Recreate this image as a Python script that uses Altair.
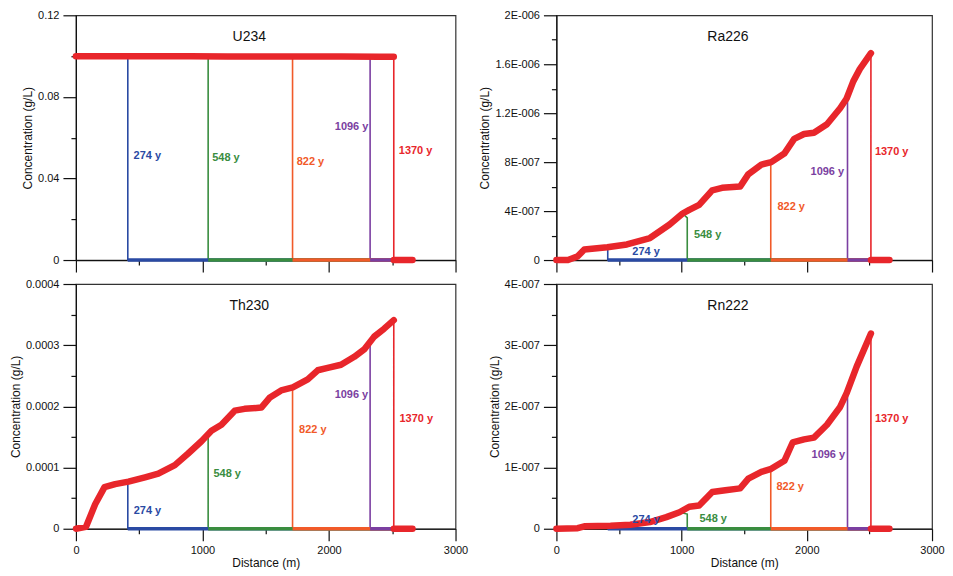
import altair as alt
import pandas as pd

# ---------------- data ----------------
SERIES = ["274 y", "548 y", "822 y", "1096 y", "1370 y"]
COLORS = ["#2a4aa3", "#3a8d3f", "#f15a29", "#7b3fa1", "#e8262b"]
FRONT_X = [410, 1045, 1712, 2325, 2512]     # distance of the front for each time
TAIL_END = 2660                              # last distance of the zero tails

X_TICKS = [0, 500, 1000, 1500, 2000, 2500, 3000]
X_LABEL_VALUES = [0, 1000, 2000, 3000]
X_LABEL_TEXTS = ["0", "1000", "2000", "3000"]

# U234 (g/L)
U234_X = [0, 300, 600, 900, 1200, 1500, 1800, 2100, 2400, 2512]
U234_Y = [0.0999, 0.0999, 0.0999, 0.0999, 0.0998, 0.0998, 0.0998, 0.0998, 0.0997, 0.0997]
U234_TOP = [0.0990, 0.0990, 0.0990, 0.0990, 0.0997]
U234_LX = [440, 1061, 1729, 2319, 2536]
U234_LY = [0.0509, 0.0501, 0.0480, 0.0652, 0.0534]

# Ra226 (g/L)
RA_X = [0, 92, 170, 223, 406, 563, 747, 904, 1008, 1061, 1140, 1244, 1323, 1467, 1532,
        1637, 1716, 1820, 1899, 1978, 2057, 2161, 2266, 2318, 2371, 2423, 2512]
RA_Y = [0, 0, 0.3e-7, 0.86e-7, 1.05e-7, 1.27e-7, 1.8e-7, 2.9e-7, 3.8e-7, 4.1e-7, 4.5e-7,
        5.7e-7, 5.9e-7, 6.0e-7, 7.0e-7, 7.8e-7, 8.0e-7, 8.7e-7, 9.9e-7, 1.03e-6, 1.04e-6,
        1.11e-6, 1.24e-6, 1.32e-6, 1.46e-6, 1.56e-6, 1.69e-6]
RA_TOP = [0.8e-7, 3.45e-7, 7.9e-7, 1.33e-6, 1.69e-6]
RA_LX = [590, 1082, 1750, 2306, 2528]
RA_LY = [0.68e-7, 2.03e-7, 4.32e-7, 7.16e-7, 8.84e-7]

# Th230 (g/L)
TH_X = [0, 79, 152, 226, 310, 415, 546, 651, 782, 887, 992, 1071, 1150, 1255, 1333, 1465,
        1530, 1622, 1714, 1832, 1911, 1990, 2095, 2200, 2278, 2357, 2436, 2512]
TH_Y = [0, 0.03e-4, 0.4e-4, 0.68e-4, 0.73e-4, 0.77e-4, 0.84e-4, 0.9e-4, 1.04e-4, 1.23e-4,
        1.43e-4, 1.6e-4, 1.7e-4, 1.93e-4, 1.96e-4, 1.98e-4, 2.14e-4, 2.26e-4, 2.31e-4,
        2.44e-4, 2.59e-4, 2.63e-4, 2.68e-4, 2.81e-4, 2.93e-4, 3.14e-4, 3.27e-4, 3.41e-4]
TH_TOP = [0.74e-4, 1.53e-4, 2.27e-4, 3.05e-4, 3.41e-4]
TH_LX = [441, 1071, 1748, 2318, 2541]
TH_LY = [0.29e-4, 0.89e-4, 1.61e-4, 2.18e-4, 1.79e-4]

# Rn222 (g/L)
RN_X = [0, 170, 223, 432, 590, 747, 878, 983, 1061, 1140, 1245, 1349, 1467, 1533, 1637,
        1716, 1821, 1887, 1978, 2057, 2161, 2266, 2319, 2398, 2512]
RN_Y = [0, 0.01e-7, 0.04e-7, 0.05e-7, 0.065e-7, 0.11e-7, 0.19e-7, 0.27e-7, 0.36e-7,
        0.38e-7, 0.6e-7, 0.63e-7, 0.66e-7, 0.82e-7, 0.93e-7, 0.98e-7, 1.11e-7, 1.41e-7,
        1.46e-7, 1.49e-7, 1.70e-7, 1.99e-7, 2.22e-7, 2.65e-7, 3.19e-7]
RN_TOP = [0.04e-7, 0.24e-7, 0.97e-7, 2.17e-7, 3.19e-7]
RN_LX = [590, 1127, 1742, 2314, 2528]
RN_LY = [0.135e-7, 0.16e-7, 0.68e-7, 1.21e-7, 1.79e-7]

# y axes: tick values, labelled values and their texts
U234_YT = [0, 0.02, 0.04, 0.06, 0.08, 0.1, 0.12]
U234_YLV = [0, 0.04, 0.08, 0.12]
U234_YLT = ["0", "0.04", "0.08", "0.12"]
RA_YT = [0, 2e-7, 4e-7, 6e-7, 8e-7, 1e-6, 1.2e-6, 1.4e-6, 1.6e-6, 1.8e-6, 2e-6]
RA_YLV = [0, 4e-7, 8e-7, 1.2e-6, 1.6e-6, 2e-6]
RA_YLT = ["0", "4E-007", "8E-007", "1.2E-006", "1.6E-006", "2E-006"]
TH_YT = [0, 0.5e-4, 1e-4, 1.5e-4, 2e-4, 2.5e-4, 3e-4, 3.5e-4, 4e-4]
TH_YLV = [0, 1e-4, 2e-4, 3e-4, 4e-4]
TH_YLT = ["0", "0.0001", "0.0002", "0.0003", "0.0004"]
RN_YT = [0, 0.5e-7, 1e-7, 1.5e-7, 2e-7, 2.5e-7, 3e-7, 3.5e-7, 4e-7]
RN_YLV = [0, 1e-7, 2e-7, 3e-7, 4e-7]
RN_YLT = ["0", "1E-007", "2E-007", "3E-007", "4E-007"]

FONT = "Liberation Sans"
W_LEFT, W_RIGHT = 380, 376
H_TOP, H_BOT = 245, 245


def label_expr(vals, texts, tol):
    expr = "''"
    for v, t in reversed(list(zip(vals, texts))):
        expr = f"abs(datum.value - ({v!r})) < {tol!r} ? '{t}' : ({expr})"
    return expr


def major_test(vals, tol):
    parts = [f"abs(datum.value - ({v!r})) < {tol!r}" for v in vals]
    return " || ".join(parts)


def make_axes(yt, ylv, ylt, bottom):
    ytol = (ylv[1] - ylv[0]) * 1e-3
    yaxis = alt.Axis(
        values=yt, labelExpr=label_expr(ylv, ylt, ytol),
        tickSize={"condition": {"test": major_test(ylv, ytol), "value": 13}, "value": 5},
        title="Concentration (g/L)", grid=False, labelFlush=False, labelOverlap=False,
        labelPadding=4, titlePadding=3,
    )
    xkw = dict(
        values=X_TICKS, grid=False, labelFlush=False, labelOverlap=False,
        tickSize={"condition": {"test": major_test(X_LABEL_VALUES, 0.5), "value": 12}, "value": 5},
    )
    if bottom:
        xaxis = alt.Axis(labelExpr=label_expr(X_LABEL_VALUES, X_LABEL_TEXTS, 0.5),
                         title="Distance (m)", labelPadding=4, titlePadding=2, **xkw)
    else:
        xaxis = alt.Axis(labels=False, title=None, **xkw)
    return xaxis, yaxis


def panel(name, cx, cy, tops, lx, ly, yt, ylv, ylt, width, height, bottom):
    xaxis, yaxis = make_axes(yt, ylv, ylt, bottom)
    xs = alt.Scale(domain=[0, 3000], nice=False)
    ys = alt.Scale(domain=[yt[0], yt[-1]], nice=False, zero=False)
    cs = alt.Scale(domain=SERIES, range=COLORS)

    def X():
        return alt.X("x:Q", scale=xs, axis=xaxis)

    def Y():
        return alt.Y("y:Q", scale=ys, axis=yaxis)

    line_rows, tail_rows, thick_rows = [], [], []
    for i, s in enumerate(SERIES):
        pts = [(x, y) for x, y in zip(cx, cy) if x < FRONT_X[i]]
        pts += [(FRONT_X[i], tops[i]), (FRONT_X[i], 0.0), (TAIL_END, 0.0)]
        for k, (x, y) in enumerate(pts):
            line_rows.append({"x": x, "y": y, "series": s, "k": k})
        tail_rows.append({"x": FRONT_X[i], "y": 0.0, "series": s, "k": 0})
        tail_rows.append({"x": TAIL_END, "y": 0.0, "series": s, "k": 1})
    for k, (x, y) in enumerate(zip(cx, cy)):
        thick_rows.append({"x": x, "y": y, "series": SERIES[-1], "seg": "curve", "k": k})
    thick_rows.append({"x": FRONT_X[-1], "y": 0.0, "series": SERIES[-1], "seg": "tail", "k": 0})
    thick_rows.append({"x": TAIL_END, "y": 0.0, "series": SERIES[-1], "seg": "tail", "k": 1})

    lines = alt.Chart(pd.DataFrame(line_rows)).mark_line(strokeWidth=1.6).encode(
        x=X(), y=Y(), color=alt.Color("series:N", scale=cs, legend=None),
        order="k:Q")
    tails = alt.Chart(pd.DataFrame(tail_rows)).mark_line(strokeWidth=3.5).encode(
        x=X(), y=Y(), color=alt.Color("series:N", scale=cs, legend=None),
        order="k:Q")
    thick = alt.Chart(pd.DataFrame(thick_rows)).mark_line(
        strokeWidth=6.5, strokeCap="round", strokeJoin="round").encode(
        x=X(), y=Y(), color=alt.Color("series:N", scale=cs, legend=None),
        detail="seg:N", order="k:Q")

    lab = pd.DataFrame({"x": lx, "y": ly, "series": SERIES})
    lab_left = alt.Chart(lab).transform_filter(alt.datum.series != "1096 y").mark_text(
        align="left", baseline="middle", dx=2, fontSize=11, fontWeight="bold", font=FONT).encode(
        x=X(), y=Y(), text="series:N", color=alt.Color("series:N", scale=cs, legend=None))
    lab_right = alt.Chart(lab).transform_filter(alt.datum.series == "1096 y").mark_text(
        align="right", baseline="middle", dx=-1, fontSize=11, fontWeight="bold", font=FONT).encode(
        x=X(), y=Y(), text="series:N", color=alt.Color("series:N", scale=cs, legend=None))

    title = alt.Chart(pd.DataFrame({"t": [name]})).mark_text(
        fontSize=14, font=FONT, color="#111", baseline="middle", align="center").encode(
        text="t:N", x=alt.value(width * 1370 / 3000), y=alt.value(22))

    return alt.layer(lines, tails, thick, lab_left, lab_right, title).properties(
        width=width, height=height)


p1 = panel("U234", U234_X, U234_Y, U234_TOP, U234_LX, U234_LY,
           U234_YT, U234_YLV, U234_YLT, W_LEFT, H_TOP, False)
p2 = panel("Ra226", RA_X, RA_Y, RA_TOP, RA_LX, RA_LY,
           RA_YT, RA_YLV, RA_YLT, W_RIGHT, H_TOP, False)
p3 = panel("Th230", TH_X, TH_Y, TH_TOP, TH_LX, TH_LY,
           TH_YT, TH_YLV, TH_YLT, W_LEFT, H_BOT, True)
p4 = panel("Rn222", RN_X, RN_Y, RN_TOP, RN_LX, RN_LY,
           RN_YT, RN_YLV, RN_YLT, W_RIGHT, H_BOT, True)

chart = alt.concat(p1, p2, p3, p4, columns=2, spacing={"row": 3, "column": 9}).properties(
    padding={"left": 0, "top": 0, "right": 0, "bottom": 0},
    background="white",
).configure_view(stroke="#333", strokeWidth=1.2).configure_axis(
    domainColor="#111", domainWidth=1.2, tickColor="#111", tickWidth=1.2,
    labelFont=FONT, labelFontSize=11, labelColor="#111",
    titleFont=FONT, titleFontSize=12, titleFontWeight="normal", titleColor="#111",
)

chart.save("out.html", embed_options={"renderer": "svg", "actions": False})
